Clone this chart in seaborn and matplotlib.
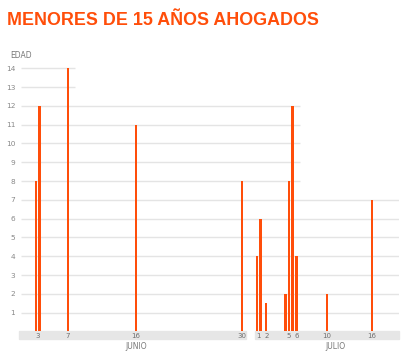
import numpy as np
import pandas as pd
import matplotlib.pyplot as plt
from matplotlib.transforms import blended_transform_factory
import seaborn as sns

sns.set_theme(style="white")
plt.rcParams['font.family'] = ['DejaVu Sans']

# Datos: un ahogado por entrada (mes, dia, edad)
meses = ["JUNIO", "JUNIO", "JUNIO", "JUNIO", "JUNIO",
         "JULIO", "JULIO", "JULIO", "JULIO", "JULIO", "JULIO", "JULIO", "JULIO", "JULIO"]
dias = [3, 3, 7, 16, 30, 1, 1, 2, 5, 5, 5, 6, 10, 16]
edades = [8, 12, 14, 11, 8, 4, 6, 1.5, 2, 8, 12, 4, 2, 7]

mes_nombres = ["JUNIO", "JULIO"]
mes_dias = [30, 19]          # dias visibles de cada mes
y_ticks = list(range(1, 15))

ORANGE = '#ff4e0a'
GAP = 1.2      # hueco entre meses (en dias)
SLOT = 0.46    # separacion entre barras del mismo dia

# posicion continua en el eje x
offsets = {m: 0.0 for m in mes_nombres}
offsets["JULIO"] = mes_dias[0] + GAP

df = pd.DataFrame({'mes': meses, 'dia': dias, 'edad': edades})
df['n'] = df.groupby(['mes', 'dia'])['edad'].transform('count')
df['i'] = df.groupby(['mes', 'dia']).cumcount()
df['pos'] = (df['mes'].map(offsets) + df['dia']
             + (df['i'] - (df['n'] - 1) / 2) * SLOT).round(3)

fig = plt.figure(figsize=(4.14, 3.57), dpi=100)
ax = fig.add_axes([18.7 / 414, 25.6 / 357, 380 / 414, 268.7 / 357])
ax.set_axisbelow(False)

x_end = offsets["JULIO"] + mes_dias[1] + 0.5

# lineas de referencia: llegan hasta la ultima barra que alcanza ese nivel
for lvl in y_ticks:
    hit = df[df['edad'] >= lvl]
    if len(hit) == 0:
        continue
    last = hit['pos'].max()
    xe = x_end if last == df['pos'].max() else last + 1.0
    ax.plot([0.75, xe], [lvl, lvl], color='#e4e4e4', lw=1.0, zorder=0,
            solid_capstyle='butt')

sns.barplot(data=df, x='pos', y='edad', native_scale=True, width=0.72,
            color=ORANGE, saturation=1, linewidth=0, errorbar=None, ax=ax,
            zorder=2)

ax.set_xlim(0.5, x_end)
ax.set_ylim(0, 14.3)
for s in ax.spines.values():
    s.set_visible(False)

# banda gris bajo cada mes
trans = blended_transform_factory(ax.transData, ax.transAxes)
for m, nd in zip(mes_nombres, mes_dias):
    x0 = offsets[m] + 0.5
    ax.add_patch(plt.Rectangle((x0, -0.029), nd, 0.029, transform=trans,
                               color='#e6e6e6', clip_on=False, zorder=1))

# etiquetas del eje x: los dias con datos
tick_df = df.drop_duplicates(['mes', 'dia'])
tick_pos = tick_df['mes'].map(offsets) + tick_df['dia']
ax.set_xticks(tick_pos)
ax.set_xticklabels(tick_df['dia'].astype(str))
ax.tick_params(axis='x', length=0, pad=0.8, labelsize=5, labelcolor='#6f6f6f')

ax.set_yticks(y_ticks)
ax.set_yticklabels([str(v) for v in y_ticks])
ax.tick_params(axis='y', length=0, pad=2.5, labelsize=5.3, labelcolor='#888888')
ax.set_xlabel('')
ax.set_ylabel('')

# nombres de los meses
mes_centro = [16, 11.1]
for m, c in zip(mes_nombres, mes_centro):
    ax.text(offsets[m] + c, -0.057, m, transform=trans, ha='center', va='center',
            fontsize=5.5, color='#777777')

fig.text(10 / 414, 1 - 56 / 357, 'EDAD', fontsize=5.5, color='#777777',
         va='center', ha='left')
fig.text(7 / 414, 1 - 25 / 357, 'MENORES DE 15 AÑOS AHOGADOS', fontsize=12.9,
         fontweight='bold', color=ORANGE, family='Liberation Sans',
         va='baseline', ha='left')

fig.savefig('out.png', dpi=100)
